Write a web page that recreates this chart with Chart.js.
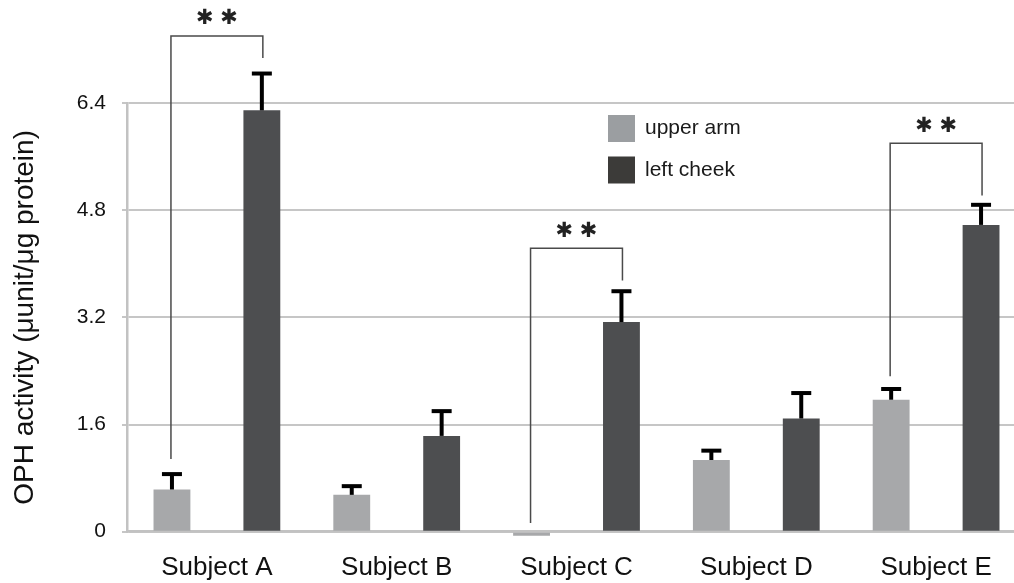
<!DOCTYPE html>
<html>
<head>
<meta charset="utf-8">
<script src="https://cdn.jsdelivr.net/npm/chart.js@4/dist/chart.umd.min.js"></script>
<style>
  html, body { margin: 0; padding: 0; background: #fff; overflow: hidden; width: 1014px; height: 583px; }
  canvas { display: block; }
</style>
</head>
<body>
<canvas id="c" width="1030" height="583"></canvas>
<script>
// ---- data ----
const categories = ['Subject A', 'Subject B', 'Subject C', 'Subject D', 'Subject E'];
const upperArm    = [0.63, 0.55, -0.06, 1.07, 1.97];
const upperArmErr = [0.23, 0.13, 0, 0.14, 0.16];
const leftCheek    = [6.29, 1.43, 3.13, 1.69, 4.58];
const leftCheekErr = [0.55, 0.37, 0.46, 0.38, 0.30];
const yTicks = [0, 1.6, 3.2, 4.8, 6.4];
const seriesNames = ['upper arm', 'left cheek'];
// significance brackets: category index, left end value, top value, right end value
const bracketCat   = [0, 2, 4];
const bracketLeft  = [1.085, 0.13, 2.32];
const bracketTop   = [7.40, 4.23, 5.80];
const bracketRight = [7.07, 3.75, 5.02];
const sigLabel = '✱ ✱';

const FONT = '"Liberation Sans", Arial, Helvetica, sans-serif';

const errorBars = {
  id: 'errorBars',
  afterDatasetsDraw(chart) {
    const ctx = chart.ctx;
    const y = chart.scales.y;
    const errs = [upperArmErr, leftCheekErr];
    const vals = [upperArm, leftCheek];
    ctx.save();
    ctx.strokeStyle = '#000';
    ctx.lineWidth = 4;
    ctx.lineCap = 'butt';
    for (let d = 0; d < 2; d++) {
      const meta = chart.getDatasetMeta(d);
      meta.data.forEach((bar, i) => {
        const e = errs[d][i];
        if (!e) return;
        const yTop = y.getPixelForValue(vals[d][i] + e);
        const yBase = y.getPixelForValue(vals[d][i]);
        ctx.beginPath();
        ctx.moveTo(bar.x, yBase);
        ctx.lineTo(bar.x, yTop);
        ctx.stroke();
        ctx.beginPath();
        ctx.moveTo(bar.x - 10, yTop);
        ctx.lineTo(bar.x + 10, yTop);
        ctx.stroke();
      });
    }
    // brackets
    ctx.strokeStyle = '#4a4a4a';
    ctx.lineWidth = 1.5;
    ctx.fillStyle = '#222';
    ctx.font = '21px "DejaVu Sans", sans-serif';
    ctx.textAlign = 'center';
    ctx.textBaseline = 'middle';
    const m0 = chart.getDatasetMeta(0), m1 = chart.getDatasetMeta(1);
    bracketCat.forEach((c, k) => {
      const xl = m0.data[c].x - 1, xr = m1.data[c].x + 1;
      const yl = y.getPixelForValue(bracketLeft[k]);
      const yt = y.getPixelForValue(bracketTop[k]);
      const yr = y.getPixelForValue(bracketRight[k]);
      ctx.beginPath();
      ctx.moveTo(xl, yl);
      ctx.lineTo(xl, yt);
      ctx.lineTo(xr, yt);
      ctx.lineTo(xr, yr);
      ctx.stroke();
      ctx.fillText(sigLabel, (xl + xr) / 2, yt - 17);
    });
    // legend
    const legCol = ['#9b9ea1', '#3c3b39'];
    ctx.font = '21px ' + FONT;
    ctx.textAlign = 'left';
    ctx.textBaseline = 'middle';
    seriesNames.forEach((n, k) => {
      const top = 115 + k * 41.5;
      ctx.fillStyle = legCol[k];
      ctx.fillRect(608, top, 27, 27);
      ctx.fillStyle = '#1a1a1a';
      ctx.fillText(n, 645, top + 13.5);
    });
    ctx.restore();
  }
};

new Chart(document.getElementById('c'), {
  type: 'bar',
  data: {
    labels: categories,
    datasets: [
      { label: seriesNames[0], data: upperArm, backgroundColor: '#a7a8aa', clip: false,
        categoryPercentage: 1.0, barPercentage: 0.41 },
      { label: seriesNames[1], data: leftCheek, backgroundColor: '#4d4e50', clip: false,
        categoryPercentage: 1.0, barPercentage: 0.41 }
    ]
  },
  options: {
    responsive: false,
    animation: false,
    layout: { padding: { left: 0, right: 4, top: 103, bottom: 0 } },
    plugins: { legend: { display: false }, tooltip: { enabled: false } },
    scales: {
      x: {
        afterFit: s => { s.height = 51.3; },
        grid: { display: false, drawTicks: false },
        border: { display: true, color: '#c2c2c2', width: 2.5 },
        ticks: { color: '#111', padding: 21, font: { family: FONT, size: 26 } }
      },
      y: {
        min: 0,
        max: 6.4,
        afterBuildTicks: s => { s.ticks = yTicks.map(v => ({ value: v })); },
        afterFit: s => { s.width = 127; },
        grid: { color: '#c6c6c6', lineWidth: 2, drawTicks: true, tickLength: 5 },
        border: { display: true, color: '#c2c2c2', width: 2.5 },
        ticks: {
          color: '#111', padding: 16, font: { family: FONT, size: 21 },
          callback: v => (v === 0 ? '0' : v.toFixed(1))
        },
        title: {
          display: true,
          text: 'OPH activity (μunit/μg protein)',
          color: '#111',
          font: { family: FONT, size: 28 },
          padding: { top: 8, bottom: 0 }
        }
      }
    }
  },
  plugins: [errorBars]
});
</script>
</body>
</html>
